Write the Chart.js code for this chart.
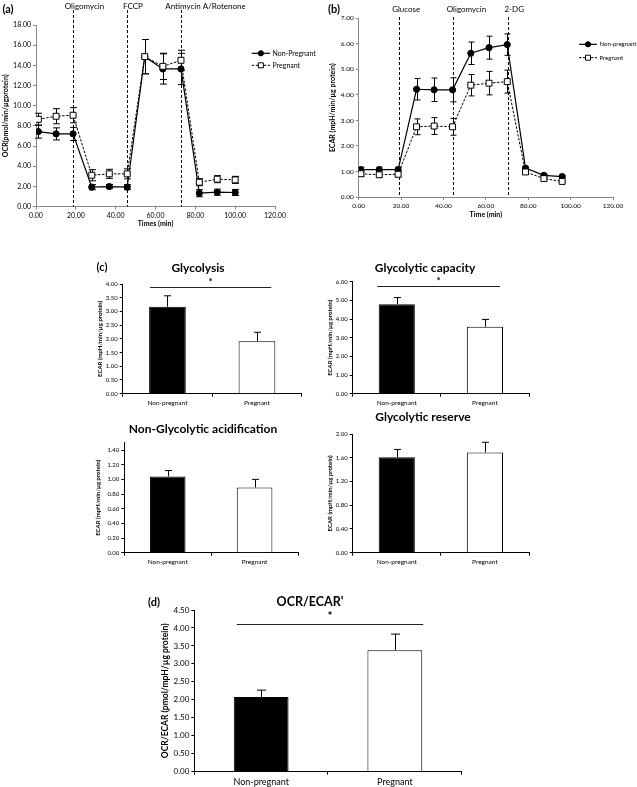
<!DOCTYPE html>
<html>
<head>
<meta charset="utf-8">
<title>Mitochondrial respiration and glycolysis</title>
<script src="https://cdn.jsdelivr.net/npm/chart.js@4.4.0/dist/chart.umd.min.js"></script>
<style>
  body { margin: 0; background: #fff; }
  #page { position: relative; width: 637px; height: 787px; overflow: hidden; font-family: Lato, sans-serif; }
  canvas { position: absolute; }
  .lbl { position: absolute; font-weight: bold; color: #000; line-height: 1; white-space: nowrap; transform: translate(-50%, -50%); }
</style>
</head>
<body>
<div id="page">
  <canvas id="chartA" width="318" height="232" style="left:0;top:0"></canvas>
  <canvas id="chartB" width="319" height="225" style="left:318px;top:0"></canvas>
  <canvas id="chartGly" width="215" height="145" style="left:90px;top:270px"></canvas>
  <canvas id="chartCap" width="216" height="147" style="left:318px;top:268px"></canvas>
  <canvas id="chartNon" width="212" height="145" style="left:90px;top:430px"></canvas>
  <canvas id="chartRes" width="216" height="150" style="left:318px;top:425px"></canvas>
  <canvas id="chartD" width="320" height="189" style="left:150px;top:598px"></canvas>

  <div class="lbl" style="left:8px;top:8px;font-size:11px">(a)</div>
  <div class="lbl" style="left:334px;top:8px;font-size:11px">(b)</div>
  <div class="lbl" style="left:102px;top:266px;font-size:11px">(c)</div>
  <div class="lbl" style="left:154px;top:601px;font-size:11px">(d)</div>
  <div class="lbl" style="left:198px;top:268px;font-size:12px">Glycolysis</div>
  <div class="lbl" style="left:425px;top:268px;font-size:12px">Glycolytic capacity</div>
  <div class="lbl" style="left:203px;top:429px;font-size:12px">Non-Glycolytic acidification</div>
  <div class="lbl" style="left:423px;top:417px;font-size:12px">Glycolytic reserve</div>
  <div class="lbl" style="left:310px;top:602px;font-size:12.5px">OCR/ECAR'</div>
</div>
<script>
Chart.defaults.font.family = 'Lato, sans-serif';
Chart.defaults.color = '#000';
Chart.defaults.animation = false;
Chart.defaults.responsive = false;
Chart.defaults.plugins.legend.display = false;
Chart.defaults.plugins.tooltip.enabled = false;

// (a) oxygen consumption
const ocrTimes = [1.2, 10.1, 18.6, 28.0, 36.8, 45.8, 54.6, 63.7, 72.8, 82.0, 91.0, 100.0];
const ocrNonPregnant = [7.43, 7.20, 7.20, 1.92, 1.98, 1.92, 14.86, 13.64, 13.64, 1.32, 1.42, 1.39];
const ocrNonPregnantErr = [0.65, 0.60, 0.65, 0.25, 0.20, 0.25, 1.70, 1.50, 1.55, 0.35, 0.30, 0.30];
const ocrPregnant = [8.65, 8.95, 9.05, 3.10, 3.24, 3.24, 14.86, 13.90, 14.50, 2.41, 2.71, 2.64];
const ocrPregnantErr = [0.60, 0.75, 0.75, 0.55, 0.45, 0.50, 1.70, 1.30, 1.00, 0.35, 0.35, 0.35];
const ocrInjections = [18.6, 45.8, 72.8];
const ocrInjectionLabels = ['Oligomycin', 'FCCP', 'Antimycin A/Rotenone'];

// (b) extracellular acidification
const ecarTimes = [1.0, 9.7, 18.6, 27.3, 35.6, 44.3, 52.9, 61.5, 70.1, 78.7, 87.4, 96.0];
const ecarNonPregnant = [1.07, 1.07, 1.07, 4.22, 4.20, 4.20, 5.63, 5.85, 5.97, 1.13, 0.85, 0.80];
const ecarNonPregnantErr = [0.10, 0.10, 0.10, 0.42, 0.46, 0.47, 0.44, 0.45, 0.42, 0.06, 0.05, 0.05];
const ecarPregnant = [0.91, 0.87, 0.89, 2.75, 2.78, 2.75, 4.38, 4.46, 4.52, 0.98, 0.72, 0.61];
const ecarPregnantErr = [0.10, 0.10, 0.10, 0.31, 0.33, 0.33, 0.42, 0.46, 0.45, 0.06, 0.05, 0.05];
const ecarInjections = [18.9, 44.3, 70.3];
const ecarInjectionLabels = ['Glucose', 'Oligomycin', '2-DG'];

// (c) and (d)
const groups = ['Non-pregnant', 'Pregnant'];
const glycolysis = [3.17, 1.91];
const glycolysisErr = [0.40, 0.33];
const glycolyticCapacity = [4.79, 3.59];
const glycolyticCapacityErr = [0.36, 0.39];
const nonGlycolytic = [1.04, 0.89];
const nonGlycolyticErr = [0.08, 0.11];
const glycolyticReserve = [1.61, 1.69];
const glycolyticReserveErr = [0.13, 0.17];
const ocrEcar = [2.08, 3.38];
const ocrEcarErr = [0.19, 0.45];

const toPoints = (times, values) => times.map((t, i) => ({ x: t, y: values[i] }));
const fmt2 = (v) => Number(v).toFixed(2);

const errorBars = {
    id: 'errorBars',
    beforeDatasetsDraw(chart, args, opts) {
        const ctx = chart.ctx;
        chart.data.datasets.forEach((ds, i) => {
            if (!ds.errors) return;
            const meta = chart.getDatasetMeta(i);
            const yScale = chart.scales[meta.yAxisID];
            meta.data.forEach((el, j) => {
                const raw = ds.data[j];
                const v = typeof raw === 'object' ? raw.y : raw;
                const e = ds.errors[j];
                const x = Math.round(el.x) + 0.5;
                const top = yScale.getPixelForValue(v + e);
                const bottom = yScale.getPixelForValue(opts.upOnly ? v : v - e);
                ctx.save();
                ctx.strokeStyle = '#000';
                ctx.lineWidth = 1;
                ctx.beginPath();
                ctx.moveTo(x, top);
                ctx.lineTo(x, bottom);
                ctx.moveTo(x - opts.cap, top);
                ctx.lineTo(x + opts.cap, top);
                if (!opts.upOnly) {
                    ctx.moveTo(x - opts.cap, bottom);
                    ctx.lineTo(x + opts.cap, bottom);
                }
                ctx.stroke();
                ctx.restore();
            });
        });
    }
};

// dashed injection lines with their labels
const injections = {
    id: 'injections',
    beforeDatasetsDraw(chart, args, opts) {
        const { ctx, chartArea, scales: { x } } = chart;
        ctx.save();
        opts.times.forEach((t, k) => {
            const px = Math.round(x.getPixelForValue(t)) + 0.5;
            ctx.strokeStyle = '#000';
            ctx.lineWidth = 1;
            ctx.setLineDash([3, 2]);
            ctx.beginPath();
            ctx.moveTo(px, opts.top);
            ctx.lineTo(px, chartArea.bottom);
            ctx.stroke();
            ctx.setLineDash([]);
            ctx.fillStyle = '#000';
            ctx.font = '8px Lato, sans-serif';
            ctx.textAlign = 'center';
            ctx.textBaseline = 'middle';
            ctx.fillText(opts.labels[k], px + opts.shift[k], opts.textY);
        });
        ctx.restore();
    }
};

// Excel style legend: line sample with marker
const sampleLegend = {
    id: 'sampleLegend',
    afterDraw(chart, args, opts) {
        const ctx = chart.ctx;
        ctx.save();
        chart.data.datasets.forEach((ds, i) => {
            const y = opts.y + i * opts.gap;
            const mid = opts.x + opts.len / 2;
            ctx.strokeStyle = ds.borderColor;
            ctx.lineWidth = ds.borderWidth;
            ctx.setLineDash(ds.borderDash || []);
            ctx.beginPath();
            ctx.moveTo(opts.x, y);
            ctx.lineTo(opts.x + opts.len, y);
            ctx.stroke();
            ctx.setLineDash([]);
            ctx.fillStyle = ds.pointBackgroundColor;
            ctx.lineWidth = 1;
            ctx.beginPath();
            if (ds.pointStyle === 'rect') {
                ctx.rect(mid - 2.5, y - 2.5, 5, 5);
            } else {
                ctx.arc(mid, y, 2.6, 0, Math.PI * 2);
            }
            ctx.fill();
            ctx.stroke();
            ctx.fillStyle = '#000';
            ctx.font = opts.size + 'px Lato, sans-serif';
            ctx.textAlign = 'left';
            ctx.textBaseline = 'middle';
            ctx.fillText(ds.label, opts.x + opts.len + 2.5, y);
        });
        ctx.restore();
    }
};

// significance bar with asterisk over the two groups
const signif = {
    id: 'signif',
    afterDatasetsDraw(chart, args, opts) {
        const ctx = chart.ctx;
        const bars = chart.getDatasetMeta(0).data;
        const left = bars[0].x - bars[0].width / 2 + opts.inset[0];
        const right = bars[1].x + bars[1].width / 2 + opts.inset[1];
        const py = Math.round(chart.scales.y.getPixelForValue(opts.value)) + 0.5;
        ctx.save();
        ctx.strokeStyle = '#222';
        ctx.lineWidth = 1;
        ctx.beginPath();
        ctx.moveTo(left, py);
        ctx.lineTo(right, py);
        ctx.stroke();
        ctx.fillStyle = '#000';
        ctx.font = 'bold ' + opts.size + 'px Lato, sans-serif';
        ctx.textAlign = 'center';
        ctx.textBaseline = 'middle';
        ctx.fillText('*', (left + right) / 2, py - opts.gap);
        ctx.restore();
    }
};

function timeCourse(id, cfg) {
    return new Chart(document.getElementById(id), {
        type: 'line',
        data: {
            datasets: [{
                label: cfg.names[0],
                data: toPoints(cfg.times, cfg.np),
                errors: cfg.npErr,
                order: 1,
                borderColor: '#000',
                borderWidth: 1.2,
                pointStyle: 'circle',
                pointRadius: 3.1,
                pointBackgroundColor: '#000',
                pointBorderColor: '#000',
                pointBorderWidth: 1
            }, {
                label: cfg.names[1],
                data: toPoints(cfg.times, cfg.preg),
                errors: cfg.pregErr,
                order: 0,
                borderColor: '#000',
                borderWidth: 1,
                borderDash: [2.5, 1.5],
                pointStyle: 'rect',
                pointRadius: 4.2,
                pointBackgroundColor: '#fff',
                pointBorderColor: '#000',
                pointBorderWidth: 1
            }]
        },
        options: {
            layout: { padding: { left: 0, top: cfg.padTop, right: cfg.padRight, bottom: 0 } },
            plugins: {
                errorBars: { cap: cfg.cap, upOnly: false },
                injections: cfg.injections,
                sampleLegend: cfg.legend
            },
            scales: {
                x: {
                    type: 'linear', min: 0, max: 120,
                    ticks: { stepSize: 20, callback: fmt2, font: { size: cfg.tickSize }, padding: 2, maxRotation: 0 },
                    grid: { drawOnChartArea: false, tickLength: 3, color: '#888' },
                    border: { color: '#888' },
                    title: { display: true, text: cfg.xTitle, font: { size: 7, weight: 'bold' }, padding: { top: 0, bottom: cfg.xTitlePad } },
                    afterFit: (s) => { s.height = cfg.xHeight; }
                },
                y: {
                    min: 0, max: cfg.yMax,
                    ticks: { stepSize: cfg.yStep, callback: fmt2, font: { size: cfg.tickSize }, padding: 2 },
                    grid: { drawOnChartArea: false, tickLength: 3, color: '#888' },
                    border: { color: '#888' },
                    title: { display: true, text: cfg.yTitle, font: { size: 7, weight: 'bold' }, padding: { top: cfg.yTitlePad, bottom: 0 } },
                    afterFit: (s) => { s.width = cfg.yWidth; }
                }
            }
        },
        plugins: [errorBars, injections, sampleLegend]
    });
}

function groupBars(id, cfg) {
    return new Chart(document.getElementById(id), {
        type: 'bar',
        data: {
            labels: groups,
            datasets: [{
                data: cfg.values,
                errors: cfg.errors,
                backgroundColor: ['#000', '#fff'],
                borderColor: '#000',
                borderWidth: 1,
                borderSkipped: 'bottom',
                barPercentage: 0.41,
                categoryPercentage: 1
            }]
        },
        options: {
            layout: { padding: { left: 0, top: cfg.padTop, right: cfg.padRight, bottom: 0 } },
            plugins: {
                errorBars: { cap: cfg.cap, upOnly: true },
                signif: cfg.signif || false
            },
            scales: {
                x: {
                    ticks: { font: { size: cfg.catSize }, padding: 2 },
                    grid: { drawOnChartArea: false, tickLength: 3, color: '#000' },
                    border: { color: '#000' },
                    afterFit: (s) => { s.height = cfg.xHeight; }
                },
                y: {
                    min: 0, max: cfg.yMax,
                    ticks: { stepSize: cfg.yStep, includeBounds: false, callback: fmt2, font: { size: cfg.tickSize }, padding: 2 },
                    grid: { drawOnChartArea: false, tickLength: 3, color: '#000' },
                    border: { color: '#000' },
                    title: { display: true, text: cfg.yTitle, font: { size: cfg.yTitleSize, weight: 'bold' }, padding: { top: cfg.yTitlePad, bottom: 0 } },
                    afterFit: (s) => { s.width = cfg.yWidth; }
                }
            }
        },
        plugins: [errorBars, signif]
    });
}

timeCourse('chartA', {
    names: ['Non-Pregnant', 'Pregnant'],
    times: ocrTimes, np: ocrNonPregnant, npErr: ocrNonPregnantErr, preg: ocrPregnant, pregErr: ocrPregnantErr,
    yMax: 18, yStep: 2, tickSize: 7, cap: 3.5,
    xTitle: 'Times (min)', yTitle: 'OCR(pmol/min/µgprotein)',
    padTop: 25, padRight: 43, xHeight: 25.5, yWidth: 36, xTitlePad: 3.8, yTitlePad: 1.8,
    injections: { times: ocrInjections, labels: ocrInjectionLabels, shift: [11, 5.5, 24], top: 10, textY: 6 },
    legend: { x: 251.7, y: 53.3, gap: 12, len: 18.3, size: 7 }
});

timeCourse('chartB', {
    names: ['Non-pregnant', 'Pregnant'],
    times: ecarTimes, np: ecarNonPregnant, npErr: ecarNonPregnantErr, preg: ecarPregnant, pregErr: ecarPregnantErr,
    yMax: 7, yStep: 1, tickSize: 6.5, cap: 3,
    xTitle: 'Time (min)', yTitle: 'ECAR (mpH/min/µg protein)',
    padTop: 18.3, padRight: 24, xHeight: 28, yWidth: 40.7, xTitlePad: 5.8, yTitlePad: 10.8,
    injections: { times: ecarInjections, labels: ecarInjectionLabels, shift: [6.7, 13, 5.7], top: 17, textY: 9.3 },
    legend: { x: 261, y: 44.3, gap: 13.4, len: 18, size: 6 }
});

const ecarTitle = 'ECAR (mpH/min/µg protein)';

groupBars('chartGly', {
    values: glycolysis, errors: glycolysisErr, yMax: 4, yStep: 0.5,
    tickSize: 6, catSize: 6.5, cap: 3.5, yTitle: ecarTitle, yTitleSize: 6, yTitlePad: 6.4,
    padTop: 14, padRight: 3.3, xHeight: 21.3, yWidth: 32.7,
    signif: { value: 3.88, inset: [1, -4], gap: 6, size: 10 }
});

groupBars('chartCap', {
    values: glycolyticCapacity, errors: glycolyticCapacityErr, yMax: 6, yStep: 1,
    tickSize: 6, catSize: 6.5, cap: 3.5, yTitle: ecarTitle, yTitleSize: 6, yTitlePad: 8.4,
    padTop: 13.7, padRight: 5, xHeight: 21.3, yWidth: 34.7,
    signif: { value: 5.77, inset: [-1.5, -3], gap: 6, size: 10 }
});

groupBars('chartNon', {
    values: nonGlycolytic, errors: nonGlycolyticErr, yMax: 1.5, yStep: 0.2,
    tickSize: 6, catSize: 6.5, cap: 3.5, yTitle: ecarTitle, yTitleSize: 6, yTitlePad: 4.7,
    padTop: 12.7, padRight: 4, xHeight: 22.3, yWidth: 34.3
});

groupBars('chartRes', {
    values: glycolyticReserve, errors: glycolyticReserveErr, yMax: 2, yStep: 0.4,
    tickSize: 6, catSize: 6.5, cap: 3.5, yTitle: ecarTitle, yTitleSize: 6, yTitlePad: 8.4,
    padTop: 9, padRight: 5, xHeight: 22.3, yWidth: 34.7
});

groupBars('chartD', {
    values: ocrEcar, errors: ocrEcarErr, yMax: 4.5, yStep: 0.5,
    tickSize: 8, catSize: 9, cap: 4.5, yTitle: 'OCR/ECAR (pmol/mpH/µg protein)', yTitleSize: 8.5, yTitlePad: 9.9,
    padTop: 12, padRight: 8.3, xHeight: 15.3, yWidth: 44.3,
    signif: { value: 4.10, inset: [3, 1], gap: 8, size: 12 }
});
</script>
</body>
</html>
